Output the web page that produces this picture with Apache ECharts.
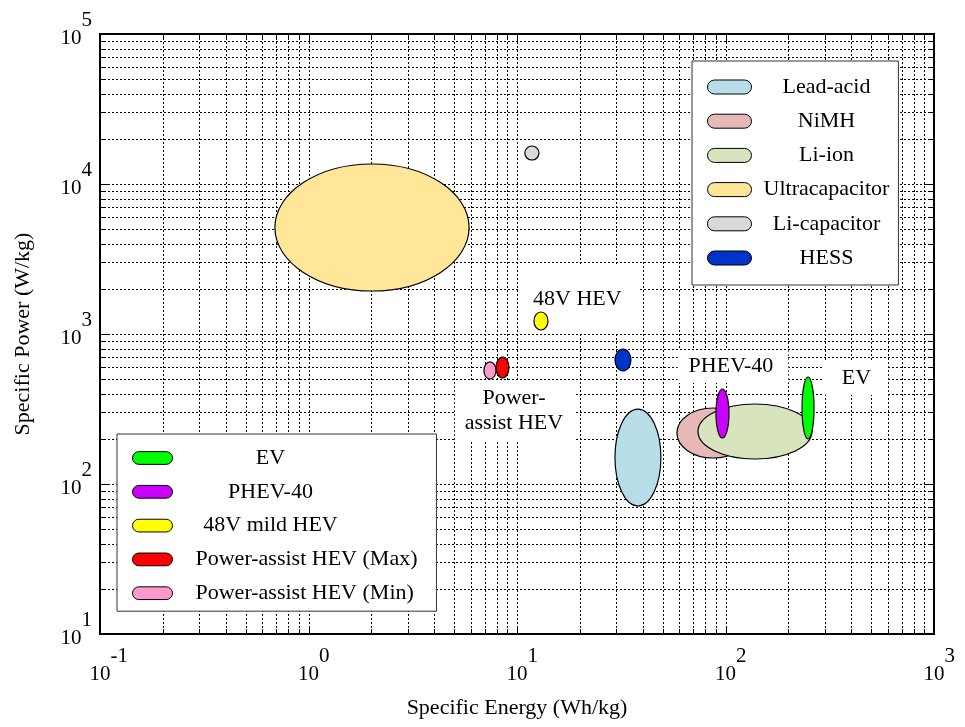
<!DOCTYPE html>
<html>
<head>
<meta charset="utf-8">
<script src="https://cdn.jsdelivr.net/npm/echarts@6/dist/echarts.min.js"></script>
<style>
html,body{margin:0;padding:0;background:#fff;}
#chart{width:965px;height:727px;}
</style>
</head>
<body>
<div id="chart"></div>
<script>
// ---------- data ----------
// Each technology region: specific energy range (Wh/kg) and specific power range (W/kg)
const seriesNames = ['Ultracapacitor', 'Li-capacitor', 'Power-assist HEV (Min)', 'Power-assist HEV (Max)',
  '48V mild HEV', 'HESS', 'Lead-acid', 'NiMH', 'Li-ion', 'PHEV-40', 'EV'];
const energyMin = [0.69, 10.9, 6.94, 7.93, 12.06, 29.5, 29.5, 58.5, 73.8, 90.0, 232.8];
const energyMax = [5.89, 12.75, 7.93, 9.15, 14.08, 35.2, 49.0, 129.6, 259.9, 103.9, 265.8];
const powerMin = [1935, 14450, 501, 509, 1063, 567, 71.3, 149, 146.8, 202.6, 199.5];
const powerMax = [13590, 17920, 651, 702, 1402, 794, 316, 321, 341.5, 430, 517];
const seriesColors = ['#ffe699', '#d9d9d9', '#ff99cc', '#ff0000', '#ffff00', '#0033cc',
  '#b7dde8', '#e6b9b8', '#d7e4bd', '#cc00ff', '#00ff00'];

const legendStorage = ['Lead-acid', 'NiMH', 'Li-ion', 'Ultracapacitor', 'Li-capacitor', 'HESS'];
const legendVehicle = ['EV', 'PHEV-40', '48V mild HEV', 'Power-assist HEV (Max)', 'Power-assist HEV (Min)'];

// Annotation labels (anchor = centre of white label box, in data units)
const annotationTexts = ['48V HEV', 'Power-\nassist HEV', 'PHEV-40', 'EV'];
const annotationEnergy = [19.7, 9.78, 108.6, 420];
const annotationPower = [1711, 306.6, 607, 505];

// Axis ranges and grid ticks
const xDecades = [0.1, 1, 10, 100];
const yDecades = [10, 100, 1000, 10000];
const minorMultipliers = [1, 2, 3, 4, 5, 6, 7, 8, 9];
const xRange = [0.1, 1000];
const yRange = [10, 100000];

// ---------- styles / layout ----------
const FONT = '"Liberation Serif", "Times New Roman", serif';
const annotationPadding = [[13, 17, 31, 15], [9.5, 12, 2.5, 10], [7, 15, 4, 11], [5, 17, 6, 19]];
const pillPath = 'path://M7,0 H37 A7,7 0 0 1 37,14 H7 A7,7 0 0 1 7,0 Z';

// build grid value lists from decades x multipliers
const xGrid = [];
xDecades.forEach(d => minorMultipliers.forEach(m => { const v = d * m; if (v > xRange[0] * 1.0001) xGrid.push([+v.toPrecision(6), 100, m === 1 ? 1 : 0]); }));
const yGrid = [];
yDecades.forEach(d => minorMultipliers.forEach(m => { const v = d * m; if (v > yRange[0] * 1.0001) yGrid.push([1, +v.toPrecision(6), m === 1 ? 1 : 0]); }));

function gridLineRender(vertical) {
  return function (params, api) {
    const cs = params.coordSys;
    const major = api.value(2) === 1;
    const tl = major ? 8 : 5;
    const dash = { stroke: '#000', lineWidth: 1, lineDash: [2, 2] };
    const solid = { stroke: '#000', lineWidth: 1 };
    if (vertical) {
      const x = Math.round(api.coord([api.value(0), 100])[0]) + 0.5;
      return { type: 'group', children: [
        { type: 'line', shape: { x1: x, y1: cs.y, x2: x, y2: cs.y + cs.height }, style: dash },
        { type: 'line', shape: { x1: x, y1: cs.y + cs.height, x2: x, y2: cs.y + cs.height - tl }, style: solid },
        { type: 'line', shape: { x1: x, y1: cs.y, x2: x, y2: cs.y + tl }, style: solid }
      ] };
    } else {
      const y = Math.round(api.coord([1, api.value(1)])[1]) + 0.5;
      return { type: 'group', children: [
        { type: 'line', shape: { x1: cs.x, y1: y, x2: cs.x + cs.width, y2: y }, style: dash },
        { type: 'line', shape: { x1: cs.x, y1: y, x2: cs.x + tl, y2: y }, style: solid },
        { type: 'line', shape: { x1: cs.x + cs.width, y1: y, x2: cs.x + cs.width - tl, y2: y }, style: solid }
      ] };
    }
  };
}

function ellipseRender(params, api) {
  const a = api.coord([api.value(0), api.value(2)]);
  const b = api.coord([api.value(1), api.value(3)]);
  return {
    type: 'ellipse',
    shape: { cx: (a[0] + b[0]) / 2, cy: (a[1] + b[1]) / 2, rx: Math.abs(b[0] - a[0]) / 2, ry: Math.abs(b[1] - a[1]) / 2 },
    style: { fill: api.visual('color'), stroke: '#000', lineWidth: 1.2 }
  };
}

function annotationRender(params, api) {
  const p = api.coord([api.value(0), api.value(1)]);
  const i = params.dataIndex;
  return {
    type: 'text', x: p[0], y: p[1],
    style: {
      text: annotationTexts[i], font: '22px ' + FONT, fill: '#000',
      align: 'center', verticalAlign: 'middle', lineHeight: i === 1 ? 25 : 22,
      backgroundColor: '#fff', padding: annotationPadding[i]
    }
  };
}

const series = [
  { type: 'custom', name: 'xgrid', z: 1, silent: true, data: xGrid, encode: { x: 0, y: 1 }, renderItem: gridLineRender(true) },
  { type: 'custom', name: 'ygrid', z: 1, silent: true, data: yGrid, encode: { x: 0, y: 1 }, renderItem: gridLineRender(false) },
  { type: 'custom', name: 'annotations', z: 2, silent: true,
    data: annotationTexts.map((t, i) => [annotationEnergy[i], annotationPower[i]]), encode: { x: 0, y: 1 }, renderItem: annotationRender }
];
seriesNames.forEach((name, i) => {
  series.push({
    type: 'custom', name: name, z: 3,
    itemStyle: { color: seriesColors[i], borderColor: '#000', borderWidth: 1 },
    data: [[energyMin[i], energyMax[i], powerMin[i], powerMax[i]]],
    encode: { x: [0, 1], y: [2, 3] },
    renderItem: ellipseRender
  });
});

function expLabel(v) { return Math.round(Math.log10(v)); }

const richCommon = {
  b: { fontSize: 21, fontFamily: FONT, color: '#000', padding: [18, 0, 10, 0] },
  s: { fontSize: 21, fontFamily: FONT, color: '#000', padding: [0, 0, 18, 0], verticalAlign: 'top' },
  h: { fontSize: 21, fontFamily: FONT, color: 'rgba(0,0,0,0)', padding: [0, 0, 18, 0], verticalAlign: 'top' }
};

const option = {
  backgroundColor: '#fff',
  animation: false,
  grid: { left: 100, right: 31, top: 34, bottom: 93, show: true, borderColor: '#000', borderWidth: 2, backgroundColor: 'transparent' },
  xAxis: {
    type: 'log', logBase: 10, min: xRange[0], max: xRange[1],
    name: 'Specific Energy (Wh/kg)', nameLocation: 'middle', nameGap: 63,
    nameTextStyle: { fontSize: 22, fontFamily: FONT, color: '#000' },
    axisLine: { show: true, lineStyle: { color: '#000', width: 2 } },
    axisTick: { show: false }, splitLine: { show: false }, minorTick: { show: false },
    axisLabel: {
      margin: 12,
      formatter: v => { const e = expLabel(v); return '{h|' + e + '}{b|10}{s|' + e + '}'; },
      rich: richCommon
    }
  },
  yAxis: {
    type: 'log', logBase: 10, min: yRange[0], max: yRange[1],
    name: 'Specific Power (W/kg)', nameLocation: 'middle', nameGap: 66,
    nameTextStyle: { fontSize: 22, fontFamily: FONT, color: '#000' },
    axisLine: { show: true, lineStyle: { color: '#000', width: 2 } },
    axisTick: { show: false }, splitLine: { show: false }, minorTick: { show: false },
    axisLabel: {
      margin: 8,
      formatter: v => { const e = expLabel(v); return '{b|10}{s|' + e + '}'; },
      rich: richCommon
    }
  },
  legend: [
    {
      data: legendStorage, orient: 'vertical', left: 692, top: 61,
      itemWidth: 44, itemHeight: 14, itemGap: 12.2, padding: [15, 9, 16, 15],
      icon: pillPath, selectedMode: false,
      backgroundColor: '#fff', borderColor: '#333', borderWidth: 1, borderRadius: 0, z: 5,
      itemStyle: { borderColor: '#000', borderWidth: 1 },
      formatter: name => '{c|' + name + '}',
      textStyle: { fontSize: 22, fontFamily: FONT, color: '#000',
        rich: { c: { width: 140, align: 'center', fontSize: 22, fontFamily: FONT, color: '#000' } } }
    },
    {
      data: legendVehicle, orient: 'vertical', left: 117, top: 434,
      itemWidth: 40, itemHeight: 13, itemGap: 11.8, padding: [13, 19, 7, 15],
      icon: pillPath, selectedMode: false,
      backgroundColor: '#fff', borderColor: '#333', borderWidth: 1, borderRadius: 0, z: 5,
      itemStyle: { borderColor: '#000', borderWidth: 1 },
      formatter: name => (name.indexOf('Power-assist') === 0 ? '{l|' + name + '}' : '{a|' + name + '}'),
      textStyle: { fontSize: 22, fontFamily: FONT, color: '#000',
        rich: {
          a: { width: 186, align: 'center', fontSize: 22, fontFamily: FONT, color: '#000' },
          l: { padding: [0, 0, 0, 18], fontSize: 22, fontFamily: FONT, color: '#000' }
        } }
    }
  ],
  series: series
};

const chart = echarts.init(document.getElementById('chart'), null, { renderer: 'canvas' });
chart.setOption(option);
</script>
</body>
</html>
